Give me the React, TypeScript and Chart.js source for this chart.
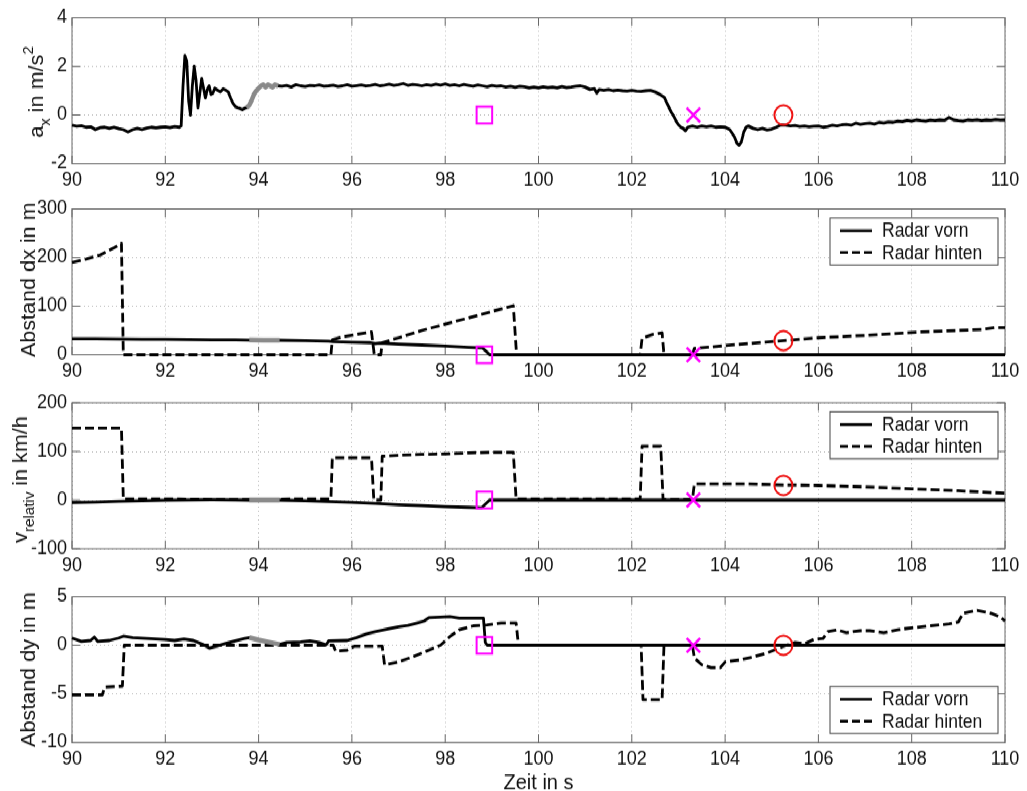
import React, { useEffect, useRef } from "react";
import { Chart, registerables } from "chart.js";

Chart.register(...registerables);

// ---------------- data ----------------
const xTicks = [90, 92, 94, 96, 98, 100, 102, 104, 106, 108, 110];
const axTicks = [-2, 0, 2, 4];
const dxTicks = [0, 100, 200, 300];
const vTicks = [-100, 0, 100, 200];
const dyTicks = [-10, -5, 0, 5];

const legendLabels = ["Radar vorn", "Radar hinten"];
const xTitle = "Zeit in s";

// marker instants: square, cross, circle
const markerTimes = [98.84, 103.32, 105.25];
const markerAx = [0, 0, 0];
const markerDx = [0, 0, 29];
const markerV = [0, 0, 30];
const markerDy = [0, 0, 0];

type P = [number, number];

const axBlack: P[] = [
  [90.0, -0.42], [90.1, -0.46], [90.2, -0.44], [90.3, -0.5], [90.4, -0.48], [90.5, -0.6], [90.6, -0.52],
  [90.7, -0.5], [90.8, -0.55], [90.9, -0.5], [91.0, -0.56], [91.1, -0.6], [91.2, -0.7], [91.3, -0.6],
  [91.4, -0.55], [91.5, -0.6], [91.6, -0.54], [91.7, -0.5], [91.8, -0.53], [91.9, -0.5], [92.0, -0.48],
  [92.1, -0.52], [92.2, -0.47], [92.3, -0.5], [92.34, -0.45], [92.38, 1.2], [92.42, 2.45], [92.46, 2.2],
  [92.5, 0.6], [92.54, 0.0], [92.58, 1.2], [92.62, 2.0], [92.66, 1.4], [92.7, 0.3], [92.74, 0.9],
  [92.78, 1.5], [92.82, 1.1], [92.86, 0.7], [92.9, 1.05], [92.94, 1.2], [92.98, 0.85], [93.02, 0.9],
  [93.06, 1.1], [93.12, 1.02], [93.18, 0.95], [93.24, 1.08], [93.3, 1.02], [93.35, 0.95], [93.4, 0.7],
  [93.45, 0.48], [93.5, 0.35], [93.55, 0.3], [93.6, 0.27], [93.65, 0.22], [93.7, 0.28], [93.74, 0.3],
  [93.8, 0.4], [93.85, 0.6], [93.9, 0.85], [93.95, 1.0], [94.0, 1.1], [94.05, 1.2], [94.1, 1.25],
  [94.15, 1.15], [94.2, 1.25], [94.25, 1.2], [94.3, 1.15], [94.35, 1.25], [94.42, 1.2],
  [94.5, 1.18], [94.6, 1.22], [94.7, 1.15], [94.8, 1.25], [94.9, 1.2], [95.0, 1.17], [95.1, 1.22],
  [95.2, 1.2], [95.3, 1.24], [95.4, 1.18], [95.5, 1.2], [95.6, 1.23], [95.7, 1.17], [95.8, 1.2],
  [95.9, 1.25], [96.0, 1.18], [96.1, 1.21], [96.2, 1.24], [96.3, 1.19], [96.4, 1.22], [96.5, 1.26],
  [96.6, 1.2], [96.7, 1.23], [96.8, 1.27], [96.9, 1.22], [97.0, 1.25], [97.1, 1.3], [97.2, 1.22],
  [97.3, 1.26], [97.4, 1.24], [97.5, 1.2], [97.6, 1.25], [97.7, 1.22], [97.8, 1.27], [97.9, 1.23],
  [98.0, 1.28], [98.1, 1.22], [98.2, 1.25], [98.3, 1.2], [98.4, 1.26], [98.5, 1.22], [98.6, 1.18],
  [98.7, 1.24], [98.8, 1.2], [98.9, 1.16], [99.0, 1.22], [99.1, 1.18], [99.2, 1.2], [99.3, 1.15],
  [99.4, 1.18], [99.5, 1.14], [99.6, 1.18], [99.7, 1.16], [99.8, 1.12], [99.9, 1.15], [100.0, 1.12],
  [100.1, 1.16], [100.2, 1.13], [100.3, 1.15], [100.4, 1.12], [100.5, 1.17], [100.6, 1.13], [100.7, 1.15],
  [100.8, 1.18], [100.9, 1.2], [101.0, 1.15], [101.1, 1.05], [101.2, 1.08], [101.25, 0.9], [101.3, 1.05],
  [101.4, 1.02], [101.5, 1.05], [101.6, 1.0], [101.7, 1.03], [101.8, 1.0], [101.9, 0.98], [102.0, 1.02],
  [102.1, 0.98], [102.2, 0.97], [102.3, 1.0], [102.4, 1.02], [102.5, 0.95], [102.6, 0.85], [102.7, 0.72],
  [102.75, 0.5], [102.8, 0.3], [102.85, 0.1], [102.9, -0.05], [102.95, -0.25], [103.0, -0.4], [103.05, -0.5],
  [103.1, -0.55], [103.15, -0.65], [103.2, -0.5], [103.3, -0.45], [103.4, -0.5], [103.5, -0.45],
  [103.6, -0.48], [103.7, -0.45], [103.8, -0.5], [103.9, -0.48], [104.0, -0.5], [104.1, -0.6],
  [104.2, -0.9], [104.25, -1.15], [104.3, -1.25], [104.35, -1.1], [104.4, -0.7], [104.45, -0.5],
  [104.5, -0.45], [104.6, -0.55], [104.7, -0.6], [104.8, -0.55], [104.9, -0.62], [105.0, -0.58],
  [105.1, -0.5], [105.2, -0.4], [105.3, -0.42], [105.4, -0.45], [105.5, -0.43], [105.6, -0.47],
  [105.7, -0.45], [105.8, -0.48], [105.9, -0.46], [106.0, -0.45], [106.1, -0.5], [106.2, -0.47],
  [106.3, -0.42], [106.4, -0.45], [106.5, -0.4], [106.6, -0.38], [106.7, -0.42], [106.8, -0.33],
  [106.9, -0.38], [107.0, -0.35], [107.1, -0.33], [107.2, -0.37], [107.3, -0.3], [107.4, -0.33],
  [107.5, -0.28], [107.6, -0.3], [107.7, -0.25], [107.8, -0.27], [107.9, -0.22], [108.0, -0.25],
  [108.1, -0.2], [108.2, -0.23], [108.3, -0.25], [108.4, -0.21], [108.5, -0.23], [108.6, -0.2],
  [108.7, -0.22], [108.8, -0.1], [108.9, -0.2], [109.0, -0.23], [109.1, -0.25], [109.2, -0.2],
  [109.3, -0.22], [109.4, -0.19], [109.5, -0.23], [109.6, -0.2], [109.7, -0.22], [109.8, -0.18],
  [109.9, -0.21], [110.0, -0.2],
];
const axGray: P[] = [
  [93.74, 0.3], [93.8, 0.4], [93.85, 0.6], [93.9, 0.85], [93.95, 1.0], [94.0, 1.1], [94.05, 1.2],
  [94.1, 1.25], [94.15, 1.15], [94.2, 1.25], [94.25, 1.2], [94.3, 1.15], [94.35, 1.25], [94.42, 1.2],
];

const dxVorn: P[] = [
  [90, 33], [90.5, 33], [91, 32.5], [91.5, 32], [92, 32], [92.5, 31.5], [93, 31], [93.5, 31], [93.8, 30.5],
  [94.45, 30], [95, 29], [95.5, 28], [95.6, 27], [96, 26], [96.4, 25], [96.5, 23], [96.6, 24], [97, 22],
  [97.5, 20], [98, 18], [98.5, 15.5], [98.8, 14], [98.88, 7], [98.95, 0], [110, 0],
];
const dxVornGray: P[] = [[93.8, 30.5], [94.1, 30.2], [94.45, 30]];
const dxHinten: P[] = [
  [90, 190], [90.3, 197], [90.6, 205], [90.9, 220], [91.06, 229], [91.1, 0], [95.55, 0], [95.58, 31],
  [95.8, 37], [96.1, 42], [96.42, 47], [96.48, 0], [96.62, 0], [96.65, 25], [97, 35], [97.5, 50], [98, 63],
  [98.5, 76], [99, 89], [99.46, 101], [99.53, 0], [102.18, 0], [102.22, 34], [102.45, 42], [102.65, 45],
  [102.69, 0], [103.3, 0], [103.34, 13], [104, 19], [104.5, 23], [105.25, 29], [106, 35], [107, 40],
  [108, 46], [109, 50], [109.5, 52], [109.8, 56], [110, 56],
];

const vVorn: P[] = [
  [90, -5], [90.5, -4], [91, -2.5], [91.5, -1.5], [92, -0.5], [92.5, 0.5], [93, 1], [93.5, 0.5], [93.8, 0],
  [94.45, 0], [95, -1.5], [95.5, -3], [96, -4.5], [96.5, -7], [97, -9.5], [97.5, -11.5], [98, -13.5],
  [98.5, -15], [98.78, -16], [98.95, 0], [110, 0],
];
const vVornGray: P[] = [[93.8, 0], [94.45, 0]];
const vHinten: P[] = [
  [90, 148], [91.06, 148], [91.1, 2], [92, 2], [93, 1], [94, 1], [95, 2], [95.55, 2], [95.58, 87],
  [96.42, 87], [96.47, 0], [96.62, 0], [96.65, 90], [97, 92], [97.5, 94], [98, 95], [98.5, 97], [99, 98],
  [99.46, 98], [99.52, 2], [102.18, 2], [102.22, 111], [102.62, 111], [102.67, 1], [103.3, 1],
  [103.34, 33], [104, 33], [104.5, 33], [105.25, 31], [106, 30], [107, 27], [108, 23], [109, 19], [110, 14],
];

const dyVorn: P[] = [
  [90, 0.75], [90.2, 0.4], [90.4, 0.5], [90.48, 0.85], [90.55, 0.4], [90.8, 0.5], [91.0, 0.75], [91.1, 0.95],
  [91.3, 0.8], [91.6, 0.7], [92.0, 0.6], [92.2, 0.5], [92.4, 0.65], [92.6, 0.5], [92.8, 0.1], [92.95, -0.3],
  [93.1, -0.1], [93.3, 0.2], [93.5, 0.45], [93.7, 0.7], [93.8, 0.8], [94.0, 0.55], [94.2, 0.35], [94.45, 0.1],
  [94.6, 0.3], [94.9, 0.35], [95.1, 0.45], [95.3, 0.3], [95.45, 0.05], [95.5, 0.45], [95.9, 0.5], [96.1, 0.8],
  [96.3, 1.15], [96.5, 1.4], [96.8, 1.7], [97.0, 1.9], [97.2, 2.05], [97.4, 2.3], [97.55, 2.5], [97.65, 2.85],
  [97.9, 2.9], [98.1, 2.95], [98.3, 2.8], [98.82, 2.8], [98.86, 0.3], [98.9, 0], [110, 0],
];
const dyVornGray: P[] = [[93.8, 0.8], [94.0, 0.55], [94.2, 0.35], [94.45, 0.1]];
const dyHinten: P[] = [
  [90, -5.1], [90.65, -5.1], [90.7, -4.3], [91.08, -4.2], [91.12, 0], [95.6, 0], [95.65, -0.6], [95.9, -0.5],
  [96.05, -0.1], [96.65, -0.1], [96.7, -2.0], [97.0, -1.7], [97.3, -1.2], [97.6, -0.6], [97.9, 0.0],
  [98.1, 0.9], [98.3, 1.6], [98.6, 2.0], [98.9, 2.1], [99.2, 2.3], [99.52, 2.3], [99.57, 0], [102.2, 0],
  [102.24, -5.6], [102.65, -5.6], [102.69, 0], [103.3, 0], [103.34, -1.3], [103.5, -2.0], [103.7, -2.3],
  [103.9, -2.3], [104.0, -1.7], [104.3, -1.5], [104.6, -1.2], [104.9, -0.8], [105.25, -0.1], [105.5, 0.3],
  [105.7, 0.15], [105.9, 0.6], [106.1, 0.7], [106.2, 1.4], [106.4, 1.6], [106.6, 1.3], [106.9, 1.5],
  [107.1, 1.5], [107.4, 1.3], [107.7, 1.6], [108.0, 1.8], [108.4, 2.0], [108.8, 2.2], [109.0, 2.4],
  [109.1, 3.3], [109.4, 3.6], [109.7, 3.3], [109.9, 2.9], [110, 2.5],
];

// ---------------- styling / layout ----------------
const FONT = "'Liberation Sans', Arial, Helvetica, sans-serif";
const STRETCH = 1.08;
const PLOT_H = 135;
const TEXT = "#111";
const AXIS = "#6a6a6a";
const GRID = "#bcbcbc";
const MAGENTA = "#ff00ff";
const RED = "#ee1111";
const GRAY = "#8a8a8a";
const DASH = [9, 4];
const LINE_W = 2.8;

Chart.defaults.font.family = FONT;

type Part = { t: string; k?: "sub" | "sup" };

interface PanelCfg {
  top: number;
  height: number;
  padTop: number;
  yMin: number;
  yMax: number;
  yTicks: number[];
  label: Part[];
  labelX: number;
  labelDy: number;
  legend: "top" | "bottom" | null;
  vorn: P[];
  gray: P[];
  hinten: P[] | null;
  markers: number[];
  xTitle: boolean;
}

const PANELS: PanelCfg[] = [
  {
    top: 0, height: 183, padTop: 16.5, yMin: -2, yMax: 4, yTicks: axTicks,
    label: [{ t: "a" }, { t: "x", k: "sub" }, { t: " in m/s" }, { t: "2", k: "sup" }],
    labelX: 43, labelDy: 1.2, legend: null, vorn: axBlack, gray: axGray, hinten: null, markers: markerAx, xTitle: false,
  },
  {
    top: 177, height: 183, padTop: 16.5, yMin: 0, yMax: 300, yTicks: dxTicks,
    label: [{ t: "Abstand dx in m" }],
    labelX: 35, labelDy: -2, legend: "top", vorn: dxVorn, gray: dxVornGray, hinten: dxHinten, markers: markerDx, xTitle: false,
  },
  {
    top: 357, height: 183, padTop: 16, yMin: -100, yMax: 200, yTicks: vTicks,
    label: [{ t: "v" }, { t: "relativ", k: "sub" }, { t: " in km/h" }],
    labelX: 27, labelDy: 3.5, legend: "top", vorn: vVorn, gray: vVornGray, hinten: vHinten, markers: markerV, xTitle: false,
  },
  {
    top: 536, height: 196, padTop: 16.5, yMin: -10, yMax: 5, yTicks: dyTicks,
    label: [{ t: "Abstand dy in m" }],
    labelX: 35, labelDy: 0, legend: "bottom", vorn: dyVorn, gray: dyVornGray, hinten: dyHinten, markers: markerDy, xTitle: true,
  },
];

function makeDecor(p: PanelCfg) {
  return {
    id: "decor",
    beforeDatasetsDraw(chart: any) {
      const ctx = chart.ctx as CanvasRenderingContext2D;
      const { left, right, top, bottom } = chart.chartArea;
      const xs = chart.scales.x;
      const ys = chart.scales.y;
      ctx.save();
      ctx.setLineDash([]);
      ctx.strokeStyle = AXIS;
      ctx.lineWidth = 1;
      ctx.beginPath();
      xs.ticks.forEach((tk: any) => {
        const px = xs.getPixelForValue(tk.value);
        ctx.moveTo(px, bottom);
        ctx.lineTo(px, bottom - 7.5);
        ctx.moveTo(px, top);
        ctx.lineTo(px, top + 7.5);
      });
      ys.ticks.forEach((tk: any) => {
        const py = ys.getPixelForValue(tk.value);
        ctx.moveTo(left, py);
        ctx.lineTo(left + 8, py);
        ctx.moveTo(right, py);
        ctx.lineTo(right - 8, py);
      });
      ctx.stroke();
      ctx.strokeRect(left, top, right - left, bottom - top);
      ctx.restore();
    },
    afterDraw(chart: any) {
      const ctx = chart.ctx as CanvasRenderingContext2D;
      const { left, right, top, bottom } = chart.chartArea;
      ctx.save();
      // y label with sub/superscripts
      ctx.translate(p.labelX, (top + bottom) / 2 + p.labelDy);
      ctx.rotate(-Math.PI / 2);
      ctx.fillStyle = TEXT;
      ctx.textBaseline = "alphabetic";
      ctx.textAlign = "left";
      const main = `20px ${FONT}`;
      const small = `14px ${FONT}`;
      let total = 0;
      const widths = p.label.map((part) => {
        ctx.font = part.k ? small : main;
        const w = ctx.measureText(part.t).width;
        total += w;
        return w;
      });
      let x = -total / 2;
      p.label.forEach((part, i) => {
        ctx.font = part.k ? small : main;
        const dy = part.k === "sub" ? 7 : part.k === "sup" ? -10 : 0;
        ctx.fillText(part.t, x, dy);
        x += widths[i];
      });
      ctx.restore();

      // legend
      if (p.legend) {
        const bw = 168;
        const bh = 43.5;
        const bx = right - 7 - bw;
        const by = p.legend === "top" ? top + 8.3 : bottom - 8.3 - bh;
        ctx.save();
        ctx.fillStyle = "#fff";
        ctx.fillRect(bx, by, bw, bh);
        ctx.strokeStyle = "#444";
        ctx.lineWidth = 1;
        ctx.setLineDash([]);
        ctx.strokeRect(bx, by, bw, bh);
        const rows = [by + 11.8, by + 32];
        rows.forEach((ry, i) => {
          ctx.strokeStyle = "#000";
          ctx.lineWidth = 2.5;
          ctx.setLineDash(i === 0 ? [] : [8, 4]);
          ctx.beginPath();
          ctx.moveTo(bx + 10, ry);
          ctx.lineTo(bx + 42, ry);
          ctx.stroke();
          ctx.setLineDash([]);
          ctx.fillStyle = TEXT;
          ctx.font = `17.5px ${FONT}`;
          ctx.textBaseline = "middle";
          ctx.textAlign = "left";
          ctx.fillText(legendLabels[i], bx + 52, ry + 1);
        });
        ctx.restore();
      }

      if (p.xTitle) {
        ctx.save();
        ctx.fillStyle = TEXT;
        ctx.font = `20px ${FONT}`;
        ctx.textAlign = "center";
        ctx.textBaseline = "alphabetic";
        ctx.fillText(xTitle, (left + right) / 2, 194.5);
        ctx.restore();
      }
    },
  };
}

function lineDs(series: P[], label: string, color: string, width: number, dashed: boolean, order: number) {
  return {
    type: "line",
    label,
    data: series.map(([x, y]) => ({ x, y })),
    borderColor: color,
    backgroundColor: color,
    borderWidth: width,
    borderDash: dashed ? DASH : [],
    borderJoinStyle: "round",
    pointRadius: 0,
    fill: false,
    tension: 0,
    clip: false,
    order,
  };
}

function markerDs(i: number, values: number[], style: string, color: string, radius: number, bw: number) {
  return {
    type: "line",
    label: "marker" + i,
    data: [{ x: markerTimes[i], y: values[i] }],
    showLine: false,
    pointStyle: style,
    pointRadius: radius,
    pointBorderColor: color,
    pointBackgroundColor: "rgba(0,0,0,0)",
    pointBorderWidth: bw,
    clip: false,
    order: 0,
  };
}

function Panel({ cfg }: { cfg: PanelCfg }) {
  const ref = useRef<HTMLCanvasElement>(null);
  useEffect(() => {
    const datasets: any[] = [
      markerDs(0, cfg.markers, "rect", MAGENTA, 11, 2),
      markerDs(1, cfg.markers, "crossRot", MAGENTA, 9.5, 2.5),
      markerDs(2, cfg.markers, "circle", RED, 9, 2),
      lineDs(cfg.gray, "gray", GRAY, 4.5, false, 1),
      lineDs(cfg.vorn, legendLabels[0], "#000", LINE_W, false, 2),
    ];
    if (cfg.hinten) datasets.push(lineDs(cfg.hinten, legendLabels[1], "#000", LINE_W, true, 3));
    const xAxisH = cfg.height - cfg.padTop - PLOT_H;
    const chart = new Chart(ref.current as HTMLCanvasElement, {
      type: "line",
      data: { datasets },
      options: {
        responsive: false,
        animation: false,
        events: [],
        layout: { padding: { top: cfg.padTop, right: 22, left: 0, bottom: 0 } },
        plugins: { legend: { display: false }, tooltip: { enabled: false } },
        scales: {
          x: {
            type: "linear",
            min: 90,
            max: 110,
            afterBuildTicks: (s: any) => {
              s.ticks = xTicks.map((v) => ({ value: v }));
            },
            afterFit: (s: any) => {
              s.height = xAxisH;
            },
            ticks: { font: { size: 18 }, color: TEXT, padding: 5, maxRotation: 0, autoSkip: false },
            grid: { color: GRID, lineWidth: 1, drawTicks: false },
            border: { display: false, dash: [1, 3] },
          },
          y: {
            type: "linear",
            min: cfg.yMin,
            max: cfg.yMax,
            afterBuildTicks: (s: any) => {
              s.ticks = cfg.yTicks.map((v) => ({ value: v }));
            },
            afterFit: (s: any) => {
              s.width = 72;
            },
            ticks: { font: { size: 18 }, color: TEXT, padding: 5 },
            grid: { color: GRID, lineWidth: 1, drawTicks: false },
            border: { display: false, dash: [1, 3] },
          },
        },
      } as any,
      plugins: [makeDecor(cfg) as any],
    } as any);
    return () => chart.destroy();
  }, []);
  return (
    <canvas
      ref={ref}
      width={1027}
      height={cfg.height}
      style={{ position: "absolute", left: 0, top: cfg.top, width: 1027, height: cfg.height }}
    />
  );
}

export default function App() {
  return (
    <div style={{ position: "fixed", left: 0, top: 0, width: 1027, height: 791, overflow: "hidden", background: "#fff" }}>
      <div
        style={{
          position: "absolute",
          left: 0,
          top: 0,
          width: 1027,
          height: 732,
          transform: `scaleY(${STRETCH})`,
          transformOrigin: "0 0",
        }}
      >
        {PANELS.map((cfg, i) => (
          <Panel key={i} cfg={cfg} />
        ))}
      </div>
    </div>
  );
}
